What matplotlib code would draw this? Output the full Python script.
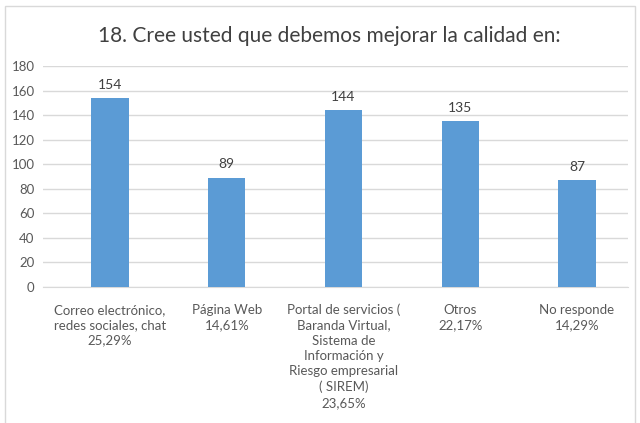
from matplotlib import pyplot as plt
from matplotlib.patches import Rectangle
import numpy as np

# data
categories = ["Correo electrónico,\nredes sociales, chat\n25,29%",
              "Página Web\n14,61%",
              "Portal de servicios (\nBaranda Virtual,\nSistema de\nInformación y\nRiesgo empresarial\n( SIREM)\n23,65%",
              "Otros\n22,17%",
              "No responde\n14,29%"]
values = [154, 89, 144, 135, 87]
y_ticks = [0, 20, 40, 60, 80, 100, 120, 140, 160, 180]

plt.rcParams['font.family'] = ['Lato', 'DejaVu Sans']

W, H = 640, 423
fig = plt.figure(figsize=(6.4, 4.23), dpi=100)

# chart border
fig.patches.append(Rectangle((5 / W, -0.1), 630 / W, 1.1 - 6 / H,
                             transform=fig.transFigure, fill=False,
                             edgecolor='#D9D9D9', linewidth=1))

# plot area: left 43px, right 628px, top at 180 -> y=66, bottom at 0 -> y=287
ax = fig.add_axes([43 / W, 1 - 287 / H, 585 / W, (287 - 66) / H])

x = np.arange(len(values))
bars = ax.bar(x, values, width=0.32, color='#5B9BD5', zorder=3)

for xi, v in zip(x, values):
    ax.text(xi, v + 6, str(v), ha='center', va='bottom', fontsize=10, color='#404040')

ax.set_ylim(0, 180)
ax.set_xlim(-0.574, 4.437)
ax.set_yticks(y_ticks)
ax.yaxis.grid(True, color='#D9D9D9', linewidth=1, zorder=0)
ax.set_xticks(x)
ax.set_xticklabels(categories, fontsize=9.5, color='#595959', linespacing=1.33, va='top')
ax.tick_params(axis='y', labelsize=9.5, labelcolor='#595959', length=0, pad=6)
ax.tick_params(axis='x', length=0, pad=12)

for s in ['top', 'right', 'left']:
    ax.spines[s].set_visible(False)
ax.spines['bottom'].set_color('#D9D9D9')

fig.text(329 / W, 1 - 36 / H, "18. Cree usted que debemos mejorar la calidad en:",
         ha='center', va='center', fontsize=15, color='#404040')

fig.savefig('out.png', dpi=100)
